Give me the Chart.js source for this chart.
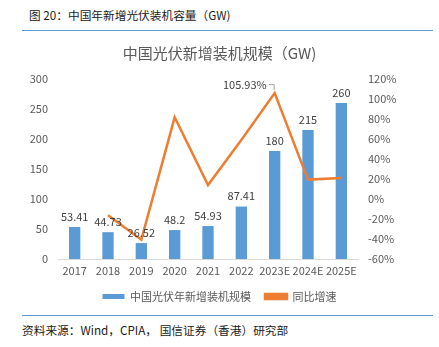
<!DOCTYPE html>
<html><head><meta charset="utf-8">
<script src="https://cdn.jsdelivr.net/npm/chart.js@4/dist/chart.umd.min.js"></script>
<style>
html,body{margin:0;padding:0;background:#fff;}
body{width:439px;height:347px;position:relative;overflow:hidden;font-family:"Noto Sans CJK SC","Noto Sans",sans-serif;}
#hdr{position:absolute;left:29px;top:6px;font-size:11.7px;font-weight:400;color:#1a1a1a;}
#l1{position:absolute;left:22px;top:30px;width:411px;height:1px;background:#5B9BD5;}
#l2{position:absolute;left:22px;top:315px;width:411px;height:1px;background:#5B9BD5;}
#src{position:absolute;left:22px;top:321px;font-size:11.7px;font-weight:400;color:#1a1a1a;}
#wrap{position:absolute;left:0;top:35px;width:439px;height:278px;}
</style></head><body>
<div id="hdr">图 20：中国年新增光伏装机容量（GW)</div>
<div id="l1"></div>
<div id="wrap"><canvas id="c" width="439" height="278"></canvas></div>
<div id="l2"></div>
<div id="src">资料来源：Wind，CPIA， 国信证券（香港）研究部</div>
<script>
const categories = ["2017","2018","2019","2020","2021","2022","2023E","2024E","2025E"];
const capacity = [53.41,44.73,26.52,48.2,54.93,87.41,180,215,260];
const capacityLabels = ["53.41","44.73","26.52","48.2","54.93","87.41","180","215","260"];
const growth = [null,-16.3,-40.7,81.7,14.0,59.1,105.93,19.4,20.9];
const growthLabel = "105.93%";
const growthLabelIndex = 6;

const labelPlugin = {
  id:'labels',
  afterDatasetsDraw(chart){
    const ctx = chart.ctx;
    ctx.save();
    ctx.font = '11px "Noto Sans CJK SC","Noto Sans",sans-serif';
    ctx.fillStyle = '#404040';
    ctx.textAlign = 'center';
    ctx.textBaseline = 'bottom';
    chart.getDatasetMeta(0).data.forEach((b,i)=>{
      ctx.fillText(capacityLabels[i], b.x, b.y - 5);
    });
    const p = chart.getDatasetMeta(1).data[growthLabelIndex];
    ctx.textAlign = 'right';
    ctx.textBaseline = 'middle';
    ctx.fillText(growthLabel, p.x - 8, p.y - 8);
    ctx.strokeStyle = '#A6A6A6';
    ctx.lineWidth = 1;
    ctx.beginPath();
    ctx.moveTo(p.x - 6, p.y - 8.5);
    ctx.lineTo(p.x - 0.5, p.y - 8.5);
    ctx.lineTo(p.x - 0.5, p.y - 3);
    ctx.stroke();
    ctx.restore();
  }
};

Chart.defaults.font.family = '"Noto Sans CJK SC","Noto Sans",sans-serif';
Chart.defaults.color = '#595959';

new Chart(document.getElementById('c'), {
  type:'bar',
  data:{
    labels:categories,
    datasets:[
      {label:'中国光伏年新增装机规模', data:capacity, backgroundColor:'#5B9BD5', yAxisID:'y', barPercentage:0.34, categoryPercentage:1, order:2},
      {label:'同比增速', type:'line', data:growth, borderColor:'#ED7D31', backgroundColor:'#ED7D31', borderWidth:2.5, pointRadius:0, yAxisID:'y1', tension:0, order:1}
    ]
  },
  options:{
    responsive:false,
    animation:false,
    devicePixelRatio:1,
    layout:{padding:{left:0,right:0,top:0,bottom:1}},
    plugins:{
      title:{display:true, text:'中国光伏新增装机规模（GW)', color:'#595959', font:{size:15, weight:'normal'}, padding:{top:9,bottom:17}},
      legend:{position:'bottom', labels:{boxWidth:22, boxHeight:5, color:'#595959', font:{size:11}, padding:14, sort:(a,b)=>a.datasetIndex-b.datasetIndex}},
      tooltip:{enabled:false}
    },
    scales:{
      x:{grid:{display:false, drawTicks:false}, border:{color:'#D9D9D9'}, ticks:{color:'#595959', font:{size:11}, padding:5, maxRotation:0, autoSkip:false}, afterFit(s){s.height=18;}},
      y:{position:'left', min:0, max:300, ticks:{stepSize:50, color:'#595959', font:{size:11}, padding:10}, grid:{display:false, drawTicks:false}, border:{display:false}, afterFit(s){s.width=58;}},
      y1:{position:'right', min:-60, max:120, ticks:{stepSize:20, color:'#595959', font:{size:11}, padding:10, callback:v=>v+'%'}, grid:{display:false, drawTicks:false}, border:{display:false}, afterFit(s){s.width=81;}}
    }
  },
  plugins:[labelPlugin]
});
</script>
</body></html>
